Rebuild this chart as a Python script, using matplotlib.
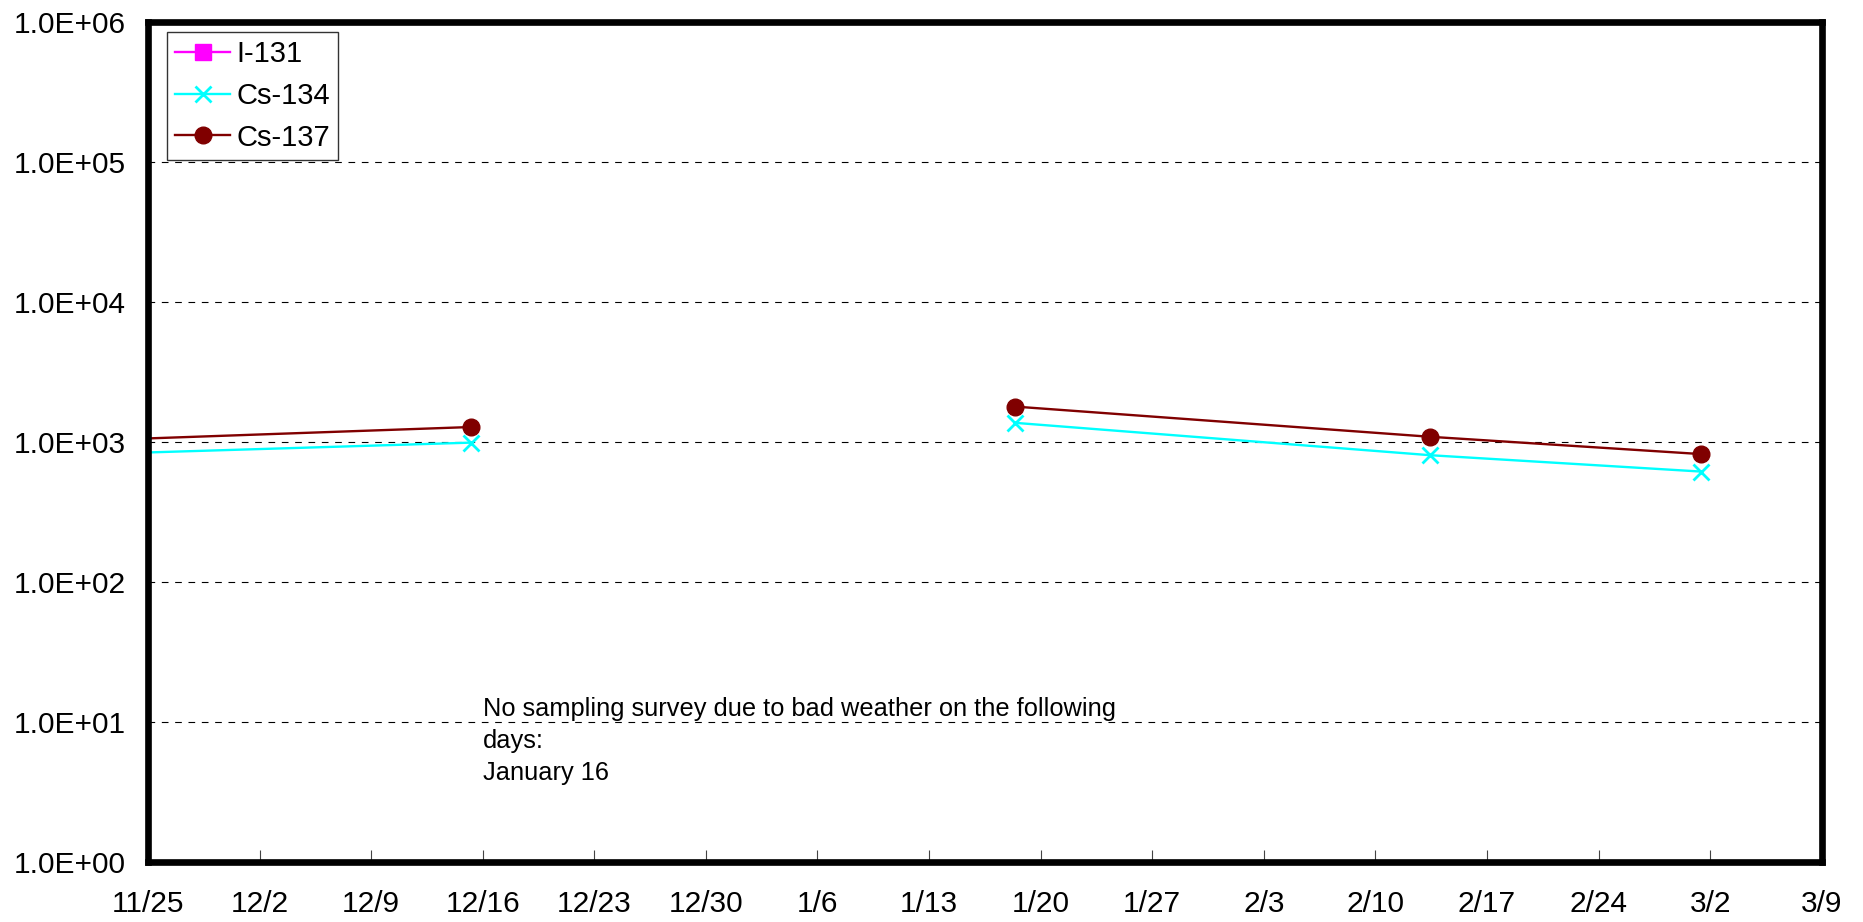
"""
Cs-134 / Cs-137 / I-131 concentration trend, log scale, weekly date axis.
"""

import matplotlib

matplotlib.use("Agg")
import matplotlib.pyplot as plt
import numpy as np
import pandas as pd

plt.rcParams["font.family"] = ["Liberation Sans", "DejaVu Sans"]

# sampling dates (NaN row breaks the line over the gap)
dates = pd.to_datetime([
    "2011-11-17 00:00",
    "2011-12-15 07:00",
    "2011-12-31 00:00",
    "2012-01-18 10:00",
    "2012-02-13 10:00",
    "2012-03-01 10:00",
])
i131 = [np.nan, np.nan, np.nan, np.nan, np.nan, np.nan]
cs134 = [790, 990, np.nan, 1370, 805, 615]
cs137 = [985, 1280, np.nan, 1790, 1090, 820]

tick_dates = pd.date_range("2011-11-25", "2012-03-09", freq="7D")
y_ticks = [1e0, 1e1, 1e2, 1e3, 1e4, 1e5, 1e6]
note = "No sampling survey due to bad weather on the following\ndays:\nJanuary 16"


def main():
    fig = plt.figure(figsize=(18.63, 9.22), dpi=100)
    ax = fig.add_axes([0.0794, 0.0651, 0.8985, 0.911])

    ax.plot(dates, i131, color="#ff00ff", linewidth=1.7, marker="s",
            markersize=11, label="I-131")
    ax.plot(dates, cs134, color="#00ffff", linewidth=1.7, marker="x",
            markersize=12, markeredgewidth=2, label="Cs-134")
    ax.plot(dates, cs137, color="#800000", linewidth=1.7, marker="o",
            markersize=12, label="Cs-137")

    ax.set_yscale("log")
    ax.set_ylim(1e0, 1e6)
    ax.set_yticks(y_ticks)
    ax.set_yticklabels([f"{v:.1E}" for v in y_ticks])
    ax.yaxis.set_minor_locator(matplotlib.ticker.NullLocator())

    ax.set_xlim(tick_dates[0], tick_dates[-1])
    ax.set_xticks(tick_dates)
    ax.set_xticklabels([f"{d.month}/{d.day}" for d in tick_dates])

    ax.grid(axis="y", color="black", linestyle=(0, (6, 6)), linewidth=0.8)
    ax.tick_params(axis="x", direction="in", length=9, width=0.8,
                   labelsize=21.5, pad=20, color="#444444")
    ax.tick_params(axis="y", length=0, labelsize=21.5, pad=16)
    for spine in ax.spines.values():
        spine.set_linewidth(4.8)

    leg = ax.legend(loc="upper left", bbox_to_anchor=(0.0113, 0.988),
                    fontsize=21, frameon=True, fancybox=False,
                    handlelength=1.9, handletextpad=0.2, labelspacing=0.47,
                    borderpad=0.28, borderaxespad=0.0)
    leg.get_frame().set_edgecolor("black")
    leg.get_frame().set_linewidth(1.0)

    # baseline alignment here anchors the last line
    ax.text(0.2001, 0.0976, note, transform=ax.transAxes, fontsize=18.3,
            va="baseline", ha="left", linespacing=1.43)

    fig.savefig("out.png", dpi=100)


if __name__ == "__main__":
    main()
